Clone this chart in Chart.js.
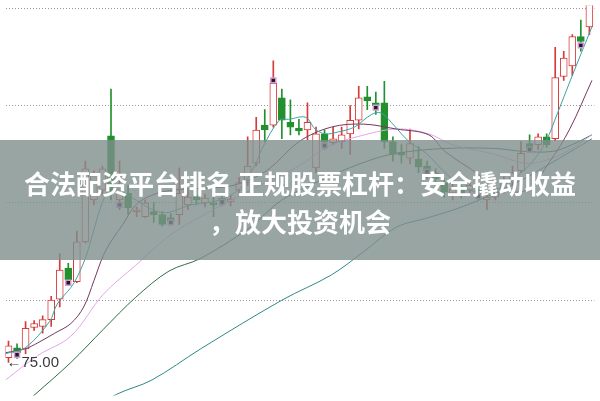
<!DOCTYPE html>
<html>
<head>
<meta charset="utf-8">
<script src="https://cdn.jsdelivr.net/npm/chart.js@4.4.1/dist/chart.umd.min.js"></script>
<style>
    html, body { margin: 0; padding: 0; background: #fff; }
    #wrap { position: relative; width: 600px; height: 401px; overflow: hidden; }
    #banner {
        position: absolute; left: 0; top: 140px; width: 600px; height: 120px;
        box-sizing: border-box; padding-top: 24px;
        background: rgba(128, 142, 140, 0.8);
        color: #fff; font-family: "Noto Sans CJK SC", sans-serif; font-weight: bold;
        font-size: 26px; line-height: 38px; text-align: center;
    }
    #lowLabel {
        position: absolute; white-space: nowrap; line-height: 16px;
        font-family: "Liberation Sans", Arial, sans-serif; font-size: 15px; color: #3a3a3a;
    }
</style>
</head>
<body>
<div id="wrap">
    <canvas id="chart" width="600" height="401"></canvas>
    <div id="lowLabel"></div>
    <div id="banner">合法配资平台排名 正规股票杠杆：安全撬动收益<br>，放大投资机会</div>
</div>
<script>
// ---------------------------------------------------------------------------
// Data
// ---------------------------------------------------------------------------

const opens = [75.25, 75.75, 75.70, 76.80, 76.85, 77.20, 78.25, 79.85, 79.15, 81.20,
    83.35, 83.85, 86.65, 83.35, 83.70, 82.75, 82.50, 82.75, 82.60, 82.45,
    82.60, 83.10, 83.60, 83.20, 83.20, 83.45, 83.25, 83.85, 84.25, 85.25,
    87.20, 87.20, 88.60, 87.35, 87.05, 86.95, 85.00, 86.75, 86.30, 86.35,
    86.75, 87.45, 88.65, 88.35, 88.35, 86.35, 85.80, 85.50, 85.45, 85.10,
    84.75, 84.25, 83.70, 83.85, 83.85, 83.85, 83.35, 83.50, 83.85, 84.25,
    84.85, 86.25, 86.20, 86.60, 86.50, 89.70, 90.25, 91.75, 92.25];
const closes = [75.85, 75.50, 76.75, 77.00, 77.20, 78.20, 79.75, 79.25, 81.20, 84.95,
    84.60, 84.95, 83.75, 84.10, 82.95, 82.85, 83.20, 82.60, 82.10, 82.25,
    83.70, 83.50, 83.35, 83.45, 83.10, 83.30, 83.40, 84.25, 85.10, 86.95,
    86.95, 89.35, 87.45, 87.10, 86.90, 87.35, 86.75, 86.35, 86.50, 86.70,
    87.45, 88.60, 88.45, 88.20, 86.35, 85.70, 85.65, 86.25, 85.05, 84.85,
    84.45, 83.75, 83.90, 83.65, 84.10, 83.60, 83.50, 83.75, 84.25, 84.75,
    85.75, 86.00, 86.60, 86.20, 89.65, 90.65, 91.75, 91.50, 93.60];
const highs = [76.10, 75.95, 77.10, 77.15, 77.40, 78.40, 80.60, 80.10, 81.75, 85.35,
    84.85, 85.10, 89.05, 85.35, 84.10, 83.00, 83.35, 83.25, 82.75, 82.65,
    85.00, 83.85, 83.95, 83.65, 83.50, 83.65, 83.60, 84.50, 86.60, 87.60,
    88.00, 90.50, 89.05, 88.50, 87.50, 88.35, 87.10, 86.95, 87.10, 87.10,
    88.20, 89.20, 89.20, 88.90, 89.45, 86.60, 86.20, 87.00, 86.10, 85.35,
    84.95, 84.45, 84.20, 84.10, 84.25, 84.05, 83.70, 83.95, 84.55, 85.10,
    86.35, 86.70, 86.75, 86.75, 91.20, 91.00, 91.85, 92.60, 93.85];
const lows = [75.00, 75.20, 75.45, 76.65, 76.50, 76.85, 77.85, 79.00, 79.10, 81.15,
    83.10, 83.60, 83.35, 82.85, 82.60, 82.50, 82.45, 82.20, 82.00, 82.05,
    82.10, 82.85, 83.10, 83.00, 82.50, 83.05, 83.05, 83.70, 84.10, 85.10,
    86.35, 87.10, 86.50, 86.70, 86.70, 86.45, 84.75, 85.95, 86.20, 86.00,
    85.70, 87.00, 88.00, 87.75, 86.00, 85.35, 85.25, 85.20, 84.75, 84.45,
    84.25, 83.50, 83.35, 83.45, 83.70, 83.35, 82.85, 83.35, 83.70, 84.10,
    84.75, 85.85, 85.95, 86.05, 86.40, 89.50, 89.75, 91.00, 91.85];

// moving-average lines, sampled along the candle index
const ma5X = [-0.34, 1.95, 4.8, 5.7, 7.3, 8.0, 9.0, 9.7, 11.1, 12.2, 14.5, 18.0, 21.4, 24.8,
    27.1, 28.8, 29.7, 31.7, 32.8, 34.8, 35.9, 37.1, 38.6, 40.5, 42.0, 43.1, 43.9, 45.1,
    46.9, 48.9, 50.9, 52.9, 54.8, 56.6, 58.0, 60.0, 61.4, 62.9, 64.3, 66.0, 68.3];
const ma5Y = [75.45, 75.75, 77.10, 78.00, 78.85, 79.35, 80.35, 81.35, 83.35, 84.00, 83.45, 82.70,
    83.10, 83.35, 83.95, 85.10, 86.00, 87.45, 87.50, 87.60, 87.00, 86.75, 86.85, 87.10,
    87.60, 87.85, 87.75, 87.20, 86.35, 85.75, 84.85, 84.10, 83.75, 83.70, 83.95, 84.75,
    85.35, 86.35, 87.85, 89.75, 92.25];
const ma10X = [-0.34, 1.95, 3.4, 5.4, 7.3, 8.8, 10.0, 11.1, 12.2, 13.4, 14.9, 16.8, 19.1, 22.5,
    26.3, 30.2, 34.0, 37.8, 41.6, 45.4, 49.2, 51.1, 54.9, 56.9, 60.6, 63.4, 65.7, 68.3];
const ma10Y = [75.50, 75.70, 76.00, 76.50, 77.00, 77.85, 79.20, 80.50, 81.35, 82.10, 83.10, 83.60,
    83.85, 83.95, 84.10, 84.85, 86.35, 87.10, 87.25, 87.00, 86.70, 85.85, 84.70, 84.00,
    83.85, 85.35, 87.00, 89.50];
const ma20X = [-0.34, 3.4, 7.3, 11.1, 14.9, 18.8, 22.5, 28.3, 34.0, 37.4, 40.8, 45.4, 49.2,
    51.9, 56.9, 60.3, 62.6, 65.4, 68.3];
const ma20Y = [74.10, 75.35, 76.35, 78.50, 80.00, 81.50, 82.50, 83.85, 85.10, 86.10, 86.60, 87.00,
    86.75, 86.20, 85.70, 85.25, 85.35, 85.85, 86.70];
const ma60X = [-0.34, 3.1, 7.3, 11.1, 14.9, 18.8, 22.5, 28.3, 32.0, 37.8, 42.0, 45.4, 51.1,
    56.9, 60.3, 63.7, 66.0, 68.3];
const ma60Y = [72.00, 73.35, 75.00, 76.70, 78.35, 79.70, 80.35, 81.95, 83.35, 84.60, 85.35, 85.75,
    86.00, 86.00, 85.85, 85.85, 86.20, 86.70];
const ma120X = [9.95, 12.6, 16.8, 22.5, 32.0, 37.8, 41.6, 45.4, 49.2, 53.1, 56.9, 60.6, 64.5, 68.3];
const ma120Y = [72.60, 73.35, 74.10, 75.70, 78.20, 79.50, 80.70, 81.95, 82.45, 83.00, 83.70, 84.50,
    85.50, 86.50];

// signal markers under some candles
const markIdx = [1, 7, 13, 19, 25, 31, 37, 43, 49, 55, 61, 67];
const markVal = [75.40, 79.10, 83.10, 82.20, 83.25, 89.50, 86.15, 88.10, 84.80, 83.55, 85.95, 91.30];

// dotted price grid
const gridLevels = [78.2, 83.2, 88.2, 93.2];

// ---------------------------------------------------------------------------
// Build datasets
// ---------------------------------------------------------------------------

const RED = "#d83a3a";
const GREEN = "#23902f";

const up = [], down = [], upWick = [], downWick = [];
opens.forEach((o, i) => {
    const c = closes[i];
    const body = { x: i, y: [o, c] };
    const wick = { x: i, y: [lows[i], highs[i]] };
    if (c >= o) { up.push(body); upWick.push(wick); }
    else { down.push(body); downWick.push(wick); }
});

const pts = (xs, ys) => xs.map((x, k) => ({ x, y: ys[k] }));

function maLine(xs, ys, color, order) {
    return {
        type: "line",
        data: pts(xs, ys),
        borderColor: color,
        borderWidth: 1,
        pointRadius: 0,
        tension: 0.35,
        order,
    };
}

const wickStyle = { type: "bar", barThickness: 1, borderWidth: 0, grouped: false, order: 6 };
const bodyStyle = { type: "bar", barThickness: 7, borderWidth: 1, borderSkipped: false,
    grouped: false, minBarLength: 1, order: 5 };

const datasets = [
    { type: "scatter", data: pts(markIdx, markVal), pointStyle: "rect", pointRadius: 3.5,
        backgroundColor: "#1e1a28", borderColor: "#d49ad4", borderWidth: 1.5, order: 0 },
    maLine(ma5X, ma5Y, "#3ea2a4", 1),
    maLine(ma10X, ma10Y, "#74385f", 2),
    maLine(ma20X, ma20Y, "#e4a6e4", 3),
    maLine(ma60X, ma60Y, "#2f6f4a", 3),
    maLine(ma120X, ma120Y, "#2f8987", 3),
    { ...bodyStyle, data: up, backgroundColor: "#ffffff", borderColor: RED },
    { ...bodyStyle, data: down, backgroundColor: GREEN, borderColor: GREEN },
    { ...wickStyle, data: upWick, backgroundColor: RED },
    { ...wickStyle, data: downWick, backgroundColor: GREEN },
];

// ---------------------------------------------------------------------------
// Low-price tag, placed through the chart scales
// ---------------------------------------------------------------------------

const lowLabelPlugin = {
    id: "lowLabel",
    afterRender(chart) {
        const lo = Math.min(...lows);
        const i = lows.indexOf(lo);
        const el = document.getElementById("lowLabel");
        el.textContent = "\u2190" + lo.toFixed(2);
        el.style.left = (chart.scales.x.getPixelForValue(i) - 2) + "px";
        el.style.top = (chart.scales.y.getPixelForValue(lo) - 8) + "px";
    },
};

new Chart(document.getElementById("chart"), {
    type: "bar",
    data: { datasets },
    options: {
        responsive: false,
        animation: false,
        layout: { padding: 0 },
        plugins: { legend: { display: false }, tooltip: { enabled: false } },
        scales: {
            x: { type: "linear", min: -0.35, max: 68.6, offset: false, display: false },
            y: {
                min: 73.3,
                max: 93.35,
                afterBuildTicks: (scale) => { scale.ticks = gridLevels.map((v) => ({ value: v })); },
                ticks: { display: false },
                grid: { color: "#9a9a9a", lineWidth: 1, drawTicks: false },
                border: { display: false, dash: [1, 2] },
            },
        },
    },
    plugins: [lowLabelPlugin],
});
</script>
</body>
</html>
